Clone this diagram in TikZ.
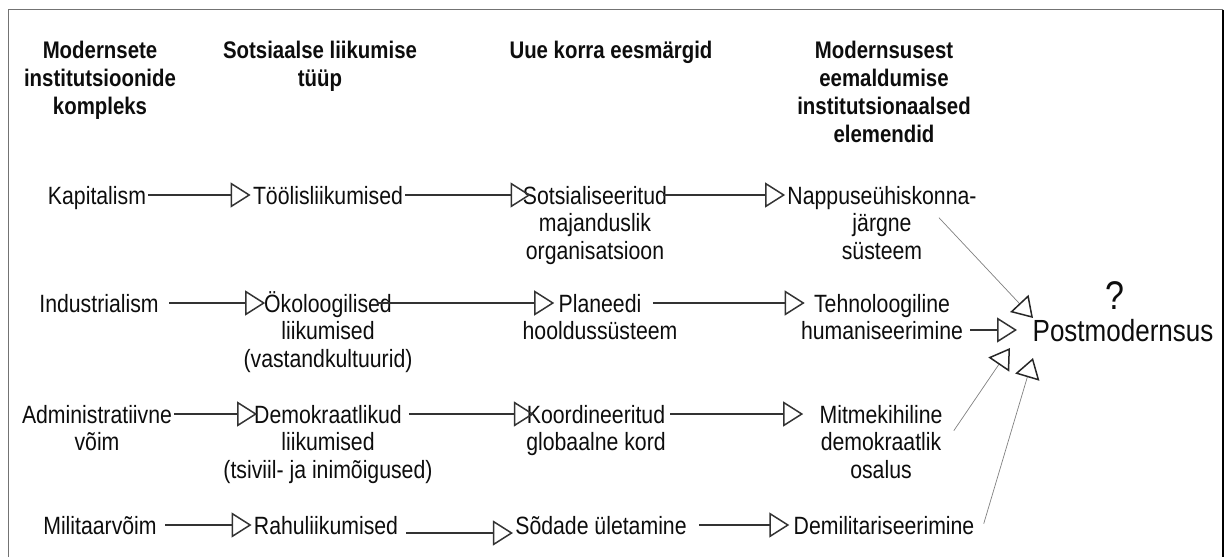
\documentclass[tikz,border=0pt]{standalone}
\usepackage{fontspec}
\setmainfont{Liberation Sans}[FakeStretch=0.85]
\usetikzlibrary{arrows.meta, calc}

\begin{document}
\begin{tikzpicture}[
    x=0.5pt, y=-0.5pt,
    every node/.style={inner sep=0pt, inner xsep=1pt, text=black!95},
    header/.style={align=center, anchor=base, font=\fontsize{12}{14}\bfseries},
    cell/.style={align=center, anchor=base, font=\fontsize{12.5}{13.75}\selectfont},
    arrow/.style={-{Triangle[open, length=10pt, width=12.5pt, line width=0.75pt]}, line width=0.7pt, black!80},
    diag/.style={-{Triangle[open, length=10pt, width=12.5pt, line width=0.75pt, color=black!85]}, line width=0.35pt, black!50},
]
\useasboundingbox (0,0) rectangle (1226,557);
% Frame
\draw[black!55, line width=0.9pt] (8.5,557) -- (8.5,9.5) -- (1223,9.5);
\draw[black, line width=1.1pt] (1223,9.5) -- (1223,557);

% Column headers (placed at the baseline of their last line)
\node[header] (h1) at (100,114) {Modernsete\\institutsioonide\\kompleks};
\node[header] (h2) at (320,86) {Sotsiaalse liikumise\\tüüp};
\node[header] (h3) at (611,58) {Uue korra eesmärgid};
\node[header] (h4) at (884,142) {Modernsusest\\eemaldumise\\institutsionaalsed\\elemendid};

% Row 1
\coordinate (r1) at (0,195);
\node[cell] (kap) at (97,204) {Kapitalism};
\node[cell] (tool) at (328,204) {Töölisliikumised};
\node[cell] (sots) at (595,259) {Sotsialiseeritud\\majanduslik\\organisatsioon};
\node[cell] (napp) at (882,259) {Nappuseühiskonna-\\järgne\\süsteem};

% Row 2
\coordinate (r2) at (0,303);
\node[cell] (ind) at (99,312) {Industrialism};
\node[cell] (oko) at (328,367) {Ökoloogilised\\liikumised\\(vastandkultuurid)};
\node[cell] (plan) at (600,339.5) {Planeedi\\hooldussüsteem};
\node[cell] (tehn) at (882,339.5) {Tehnoloogiline\\humaniseerimine};

% Row 3
\coordinate (r3) at (0,414);
\node[cell] (adm) at (97,450.5) {Administratiivne\\võim};
\node[cell] (dem) at (328,478) {Demokraatlikud\\liikumised\\(tsiviil- ja inimõigused)};
\node[cell] (koord) at (596,450.5) {Koordineeritud\\globaalne kord};
\node[cell] (mitm) at (881,478) {Mitmekihiline\\demokraatlik\\osalus};

% Row 4
\coordinate (r4) at (0,525);
\coordinate (r4b) at (0,533);
\node[cell] (mil) at (100,534) {Militaarvõim};
\node[cell] (rahu) at (326,534) {Rahuliikumised};
\node[cell] (sod) at (601,534) {Sõdade ületamine};
\node[cell] (demil) at (884,534) {Demilitariseerimine};

% Postmodernsus
\node[cell, font=\fontsize{15.3}{17}\selectfont] (post) at (1123,341) {Postmodernsus};
\node[cell, font=\fontsize{20}{22}\selectfont] (q) at (1115,309) {?};
\coordinate (tipA) at (1033,318);
\coordinate (tipB) at (1017,330);
\coordinate (tipC) at (1010,348);
\coordinate (tipD) at (1033,358);

% Row 1 arrows
\draw[arrow] (kap.east |- r1) -- (tool.west |- r1);
\draw[arrow] (tool.east |- r1) -- ($(sots.west |- r1)+(10,0)$);
\draw[arrow] ($(sots.east |- r1)+(-6,0)$) -- (napp.west |- r1);
% Row 2 arrows
\draw[arrow] ($(ind.east |- r2)+(8,0)$) -- ($(oko.west |- r2)+(24,0)$);
\draw[arrow] ($(oko.east |- r2)+(-38,0)$) -- ($(plan.west |- r2)+(34,0)$);
\draw[arrow] ($(plan.east |- r2)+(-27,0)$) -- ($(tehn.west |- r2)+(6,0)$);
\draw[arrow] ($(tehn.east |- tipB)+(5,0)$) -- (tipB);
% Row 3 arrows
\draw[arrow] (adm.east |- r3) -- ($(dem.west |- r3)+(36,0)$);
\draw[arrow] ($(dem.east |- r3)+(-26,0)$) -- ($(koord.west |- r3)+(10,0)$);
\draw[arrow] ($(koord.east |- r3)+(2,0)$) -- ($(mitm.west |- r3)+(-14,0)$);
% Row 4 arrows
\draw[arrow] ($(mil.east |- r4)+(6,0)$) -- (rahu.west |- r4);
\draw[arrow] ($(rahu.east |- r4b)+(6,0)$) -- (sod.west |- r4b);
\draw[arrow] ($(sod.east |- r4)+(10,0)$) -- ($(demil.west |- r4)+(-2,0)$);

% Into Postmodernsus
\draw[diag] ($(napp.south east)+(-40,-42)$) -- (tipA);
\draw[diag] ($(mitm.south east)+(9,-48)$) -- (tipC);
\draw[diag] ($(demil.south east)+(7,-11)$) -- (tipD);
\end{tikzpicture}
\end{document}
